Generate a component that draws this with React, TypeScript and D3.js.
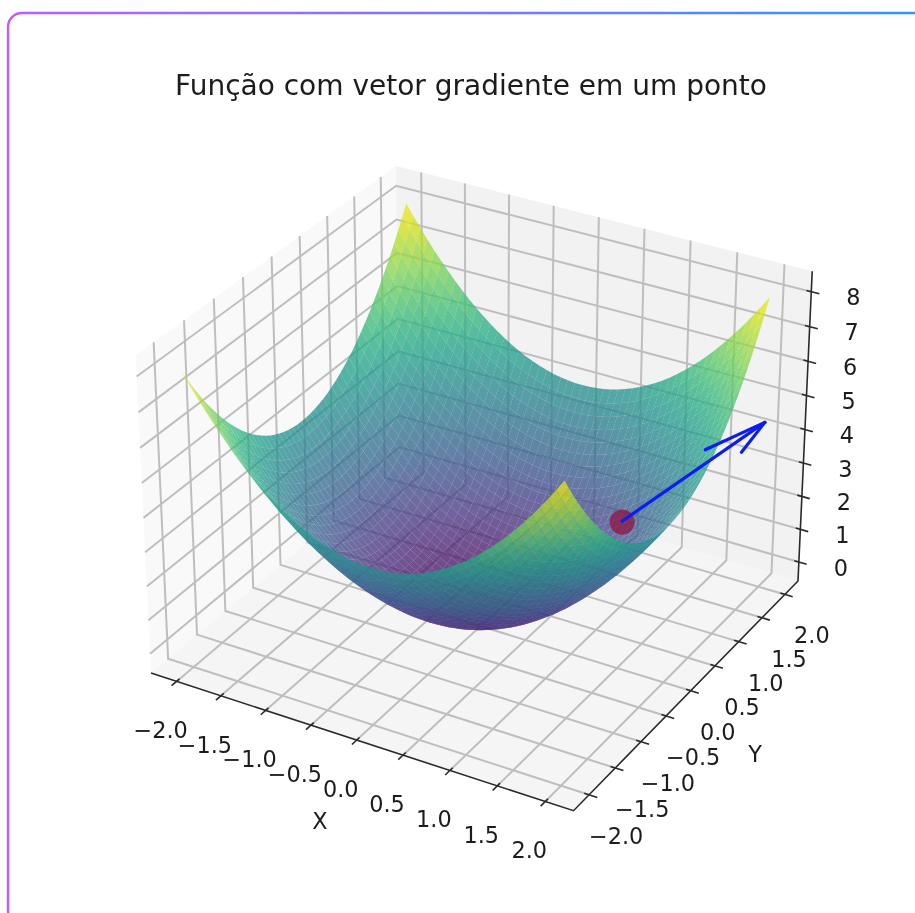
import React from "react";
import * as d3 from "d3";

const titleText = "Função com vetor gradiente em um ponto";
const xTicks = [-2, -1.5, -1, -0.5, 0, 0.5, 1, 1.5, 2];
const yTicks = [-2, -1.5, -1, -0.5, 0, 0.5, 1, 1.5, 2];
const zTicks = [0, 1, 2, 3, 4, 5, 6, 7, 8];
const xLimits = [-2.2917, 2.2917];
const yLimits = [-2.2917, 2.2917];
const zLimits = [-0.5833, 8.5833];

const surfaceAxis = [
  -2, -1.92, -1.84, -1.76, -1.68, -1.6, -1.52, -1.44, -1.36, -1.28, -1.2, -1.12, -1.04, -0.96, -0.88, -0.8, -0.72,
  -0.64, -0.56, -0.48, -0.4, -0.32, -0.24, -0.16, -0.08, 0, 0.08, 0.16, 0.24, 0.32, 0.4, 0.48, 0.56, 0.64, 0.72, 0.8,
  0.88, 0.96, 1.04, 1.12, 1.2, 1.28, 1.36, 1.44, 1.52, 1.6, 1.68, 1.76, 1.84, 1.92, 2,
];
const surfaceProfile = [
  4, 3.6864, 3.3856, 3.0976, 2.8224, 2.56, 2.3104, 2.0736, 1.8496, 1.6384, 1.44, 1.2544, 1.0816, 0.9216, 0.7744, 0.64,
  0.5184, 0.4096, 0.3136, 0.2304, 0.16, 0.1024, 0.0576, 0.0256, 0.0064, 0, 0.0064, 0.0256, 0.0576, 0.1024, 0.16,
  0.2304, 0.3136, 0.4096, 0.5184, 0.64, 0.7744, 0.9216, 1.0816, 1.2544, 1.44, 1.6384, 1.8496, 2.0736, 2.3104, 2.56,
  2.8224, 3.0976, 3.3856, 3.6864, 4,
];
const pointXYZ = [1, 1, 2];
const arrowTip = [2, 2, 4.37];

type V3 = [number, number, number];
const norm = (a: number[]) => Math.hypot(a[0], a[1], a[2]);
const dot3 = (a: number[], b: number[]) => a[0] * b[0] + a[1] * b[1] + a[2] * b[2];
const cross = (a: number[], b: number[]): V3 => [
  a[1] * b[2] - a[2] * b[1],
  a[2] * b[0] - a[0] * b[2],
  a[0] * b[1] - a[1] * b[0],
];
const unit = (a: number[]): V3 => {
  const n = norm(a);
  return [a[0] / n, a[1] / n, a[2] / n];
};

// matplotlib mplot3d camera: elev 30, azim -60, dist 10, box aspect 4:4:3
const elev = (30 * Math.PI) / 180;
const azim = (-60 * Math.PI) / 180;
const aspectK = (1.8294640721620434 * 25) / 24 / Math.hypot(4, 4, 3);
const box = [4 * aspectK, 4 * aspectK, 3 * aspectK];
const bx = d3.scaleLinear().domain(xLimits).range([0, box[0]]);
const by = d3.scaleLinear().domain(yLimits).range([0, box[1]]);
const bz = d3.scaleLinear().domain(zLimits).range([0, box[2]]);
const w: V3 = [Math.cos(elev) * Math.cos(azim), Math.cos(elev) * Math.sin(azim), Math.sin(elev)];
const eye: V3 = [box[0] / 2 + 10 * w[0], box[1] / 2 + 10 * w[1], box[2] / 2 + 10 * w[2]];
const u = unit(cross([0, 0, 1], w));
const v = cross(w, u);

const cam = (x: number, y: number, z: number) => {
  const d = [bx(x) - eye[0], by(y) - eye[1], bz(z) - eye[2]];
  const depth = -dot3(w, d);
  return { sx: dot3(u, d) / depth, sy: dot3(v, d) / depth, depth };
};

const [x0, x1] = xLimits;
const [y0, y1] = yLimits;
const [z0, z1] = zLimits;
const sxScale = d3
  .scaleLinear()
  .domain([cam(x0, y0, z0).sx, cam(x1, y1, z0).sx])
  .range([151, 798]);
const syScale = d3
  .scaleLinear()
  .domain([cam(x1, y0, z0).sy, cam(x0, y1, z1).sy])
  .range([810.7, 166]);

const P = (x: number, y: number, z: number): [number, number] => {
  const c = cam(x, y, z);
  return [sxScale(c.sx), syScale(c.sy)];
};
const pathOf = (pts: number[][], close = false) => {
  const s = d3.line()(pts.map((p) => P(p[0], p[1], p[2]))) as string;
  return close ? s + "Z" : s;
};

const color = d3.scaleSequential(d3.interpolateViridis).domain([0, 8]);

const cells = (() => {
  const out: { d: string; fill: string; depth: number; key: string }[] = [];
  for (let i = 0; i < surfaceAxis.length - 1; i++) {
    for (let j = 0; j < surfaceAxis.length - 1; j++) {
      const corners = [
        [i, j],
        [i + 1, j],
        [i + 1, j + 1],
        [i, j + 1],
      ].map(([a, b]) => [surfaceAxis[a], surfaceAxis[b], surfaceProfile[a] + surfaceProfile[b]]);
      const meanZ = d3.mean(corners, (c) => c[2]) as number;
      const depth = d3.mean(corners, (c) => cam(c[0], c[1], c[2]).depth) as number;
      out.push({ d: pathOf(corners, true), fill: color(meanZ), depth, key: `${i}-${j}` });
    }
  }
  return out.sort((a, b) => b.depth - a.depth);
})();

// quiver head: arrow_length_ratio 0.3, rotated +-15 degrees
const shaft = [arrowTip[0] - pointXYZ[0], arrowTip[1] - pointXYZ[1], arrowTip[2] - pointXYZ[2]];
const shaftLen = norm(shaft);
const dir = unit(shaft);
const hAxis = unit([dir[1], -dir[0], 0]);
const headSide = cross(hAxis, dir);
const headEnds = [1, -1].map((s) => {
  const a = (s * 15 * Math.PI) / 180;
  return [0, 1, 2].map((k) => arrowTip[k] - 0.3 * shaftLen * (dir[k] * Math.cos(a) + headSide[k] * Math.sin(a)));
});

const FONT = "'DejaVu Sans', sans-serif";
const TEXT = "#1c1c1c";
const GRID = "#bebebe";
const AXIS = "#2a2a2a";
const TICK_OUT = 0.085;
const TICK_IN = 0.05;
const minus = (t: number, digits: number) => (t < 0 ? "\u2212" : "") + Math.abs(t).toFixed(digits);

export default function App() {
  const [dx, dy] = P(pointXYZ[0], pointXYZ[1], pointXYZ[2]);
  return (
    <svg
      width={915}
      height={913}
      viewBox="0 0 915 913"
      style={{ position: "absolute", left: 0, top: 0, display: "block", background: "#fff" }}
    >
      <defs>
        <linearGradient id="frame" gradientUnits="userSpaceOnUse" x1={8} y1={0} x2={915} y2={0}>
          <stop offset="0" stopColor="#bd5cff" />
          <stop offset="1" stopColor="#2f96ff" />
        </linearGradient>
        <filter id="soft" filterUnits="userSpaceOnUse" x={0} y={0} width={915} height={913}>
          <feGaussianBlur stdDeviation={0.75} />
        </filter>
      </defs>
      <rect x={8} y={13} width={940} height={912} rx={14} fill="#fff" stroke="url(#frame)" strokeWidth={2.4} />
      <g filter="url(#soft)">
        <text x={471} y={95} textAnchor="middle" fontFamily={FONT} fontSize={28} fill={TEXT}>
          {titleText}
        </text>
        {/* panes */}
        <path d={pathOf([[x0, y0, z0], [x0, y1, z0], [x0, y1, z1], [x0, y0, z1]], true)} fill="#f9f9f9" />
        <path d={pathOf([[x0, y1, z0], [x1, y1, z0], [x1, y1, z1], [x0, y1, z1]], true)} fill="#f2f2f2" />
        <path d={pathOf([[x0, y0, z0], [x1, y0, z0], [x1, y1, z0], [x0, y1, z0]], true)} fill="#f5f5f5" />
        {/* grid */}
        <g fill="none" stroke={GRID} strokeWidth={2}>
          {xTicks.map((t) => (
            <path key={t} d={pathOf([[t, y0, z0], [t, y1, z0], [t, y1, z1]])} />
          ))}
          {yTicks.map((t) => (
            <path key={t} d={pathOf([[x1, t, z0], [x0, t, z0], [x0, t, z1]])} />
          ))}
          {zTicks.map((t) => (
            <path key={t} d={pathOf([[x0, y0, t], [x0, y1, t], [x1, y1, t]])} />
          ))}
        </g>
        {/* axes and ticks */}
        <g fill="none" stroke={AXIS} strokeWidth={1.6}>
          <path d={pathOf([[x0, y0, z0], [x1, y0, z0], [x1, y1, z0], [x1, y1, z1]])} />
          {xTicks.map((t) => (
            <path key={t} d={pathOf([[t, y0 - TICK_OUT, z0], [t, y0 + TICK_IN, z0]])} />
          ))}
          {yTicks.map((t) => (
            <path key={t} d={pathOf([[x1 + TICK_OUT, t, z0], [x1 - TICK_IN, t, z0]])} />
          ))}
          {zTicks.map((t) => (
            <path key={t} d={pathOf([[x1 + TICK_OUT, y1, t], [x1 - TICK_IN, y1, t]])} />
          ))}
        </g>
        <g fontFamily={FONT} fontSize={22.4} fill={TEXT} textAnchor="middle" dominantBaseline="central">
          {xTicks.map((t) => {
            const [a, b] = P(t, y0, z0);
            return (
              <text key={t} x={a - 16} y={b + 49}>
                {minus(t, 1)}
              </text>
            );
          })}
          {yTicks.map((t) => {
            const [a, b] = P(x1, t, z0);
            return (
              <text key={t} x={a + 27} y={b + 41}>
                {minus(t, 1)}
              </text>
            );
          })}
          {zTicks.map((t) => {
            const [a, b] = P(x1, y1, t);
            return (
              <text key={t} x={a + 42} y={b + 5.5}>
                {minus(t, 0)}
              </text>
            );
          })}
          <text x={320} y={821}>X</text>
          <text x={755} y={754}>Y</text>
        </g>
        {/* surface */}
        <g fillOpacity={0.76}>
          {cells.map((c) => (
            <path key={c.key} d={c.d} fill={c.fill} />
          ))}
        </g>
        <circle cx={dx} cy={dy + 1} r={12.5} fill="#8f1446" fillOpacity={0.75} />
        <g fill="none" stroke="#0a1ff0" strokeWidth={3.2} strokeLinecap="round">
          <path d={pathOf([pointXYZ, arrowTip])} />
          {headEnds.map((h, i) => (
            <path key={i} d={pathOf([arrowTip, h])} />
          ))}
        </g>
      </g>
    </svg>
  );
}
